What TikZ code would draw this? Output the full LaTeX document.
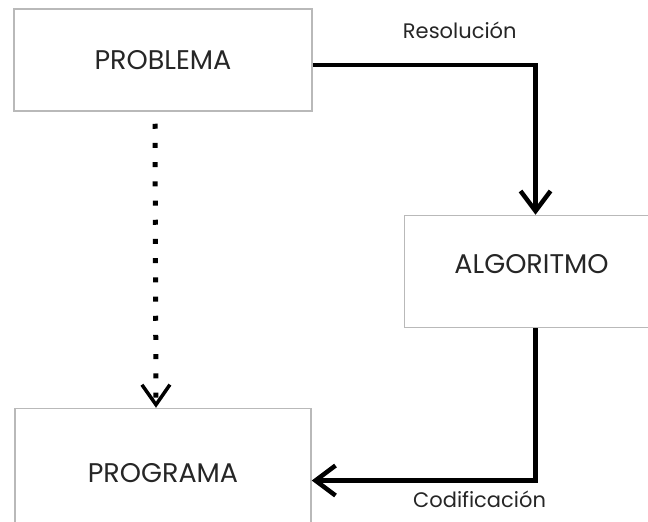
\documentclass[tikz,border=0pt]{standalone}
\usepackage{fontspec}
\setmainfont{Poppins}
\usetikzlibrary{arrows.meta,positioning}
\tikzset{
  box/.style = {draw=gray!55, line width=1.5pt, rectangle, text=black!85, font=\fontsize{27}{32}\selectfont, align=center},
  lbl/.style = {text=black!85, font=\fontsize{21}{25}\selectfont},
  arrow/.style = {line width=4.5pt, -{Straight Barb[length=20pt,width=30pt]}},
  dots/.style = {line width=5pt, dash pattern=on 5pt off 14.2pt, -{Straight Barb[length=20pt,width=28pt,line width=3.5pt]}}
}

\begin{document}
\begin{tikzpicture}[x=1pt, y=-1pt]
        \useasboundingbox (0,0) rectangle (648,522);
        \clip (0,0) rectangle (648,522);
        \node[box, minimum width=298pt, minimum height=102pt] (problema) at (163,60) {PROBLEMA};
        \node[box, minimum width=254pt, minimum height=112pt, text depth=16pt, below right=103pt and 91pt of problema] (algoritmo) {ALGORITMO};
        \node[box, minimum width=296pt, minimum height=130pt, below=296pt of problema] (programa) {PROGRAMA};
        \draw[arrow] ([yshift=-5pt]problema.east) -| ([xshift=4pt]algoritmo.north)
            node[lbl, pos=0.33, above=21pt] (resol) {Resolución};
        \draw[arrow] ([xshift=4pt]algoritmo.south) |- ([yshift=-7pt]programa.east)
            node[lbl, pos=0.625, below=5pt] (codif) {Codificación};
        \draw[dots] ([xshift=-8pt,yshift=-12pt]problema.south) -- ([xshift=-7pt]programa.north);
    \end{tikzpicture}
\end{document}
